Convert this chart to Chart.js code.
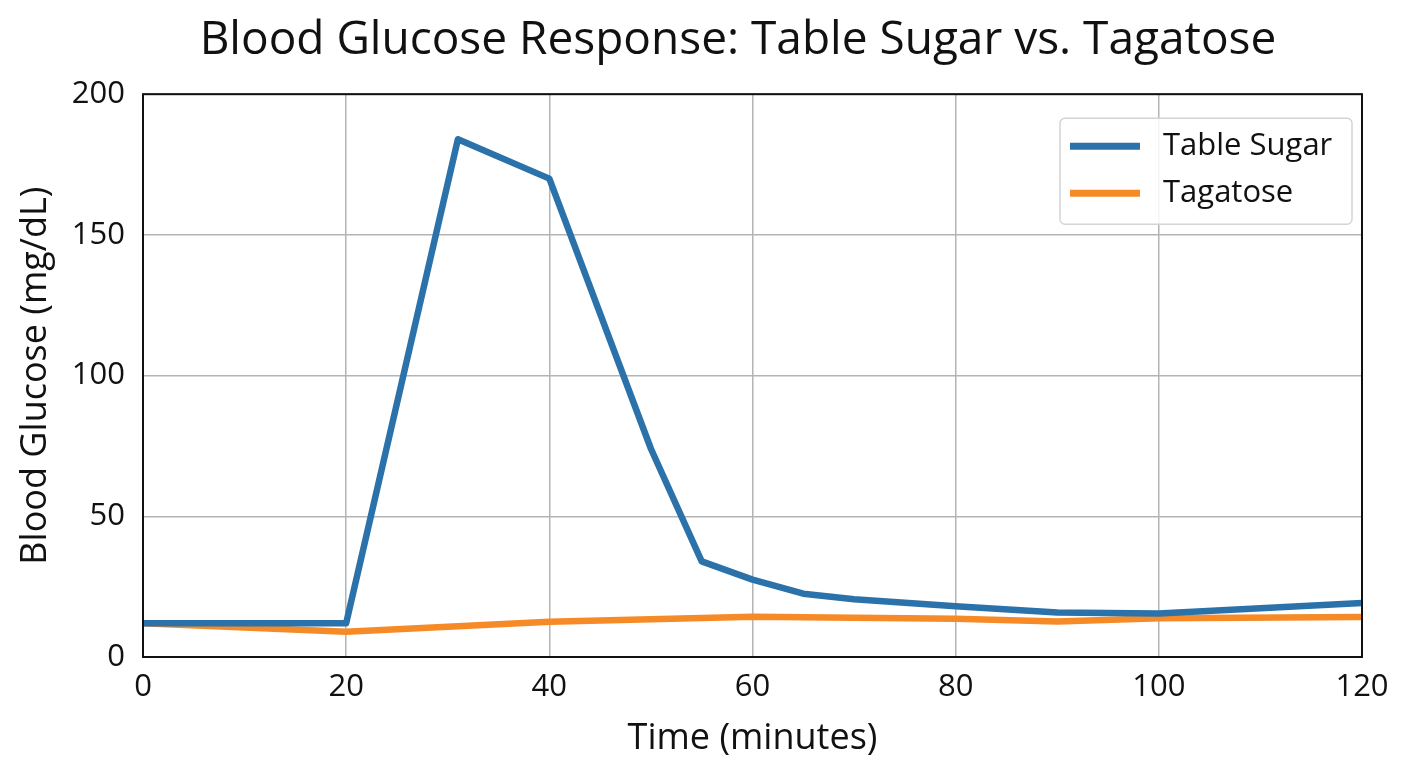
<!DOCTYPE html>
<html>
<head>
<meta charset="utf-8">
<script src="https://cdn.jsdelivr.net/npm/chart.js@4.4.1/dist/chart.umd.min.js"></script>
<style>
  html, body { margin: 0; padding: 0; background: #fff; }
  #wrap { width: 1408px; height: 768px; }
</style>
</head>
<body>
<div id="wrap"><canvas id="GlucoseChart" width="1408" height="768"></canvas></div>
<script>
// values
var sugarTimes = [0, 20, 31, 40, 50, 55, 60, 65, 70, 80, 90, 100, 110, 120];
var sugarValues = [12, 12, 184, 170, 74, 34, 27.5, 22.5, 20.5, 18, 15.8, 15.5, 17.3, 19.2];
var tagaTimes = [0, 20, 40, 60, 80, 90, 100, 120];
var tagaValues = [12, 9, 12.5, 14.3, 13.6, 12.6, 13.8, 14.2];
var xTicks = [0, 20, 40, 60, 80, 100, 120];
var yTicks = [0, 50, 100, 150, 200];
var seriesNames = ['Table Sugar', 'Tagatose'];
var seriesColors = ['#2b72aa', '#f68a26'];

var FONT = "'Open Sans', 'Noto Sans', sans-serif";

function toPoints(xs, ys)
{
  let pts = [];
  for (let i = 0; i < xs.length; i++) pts.push({x: xs[i], y: ys[i]});
  return pts;
}

// black frame round the plot area
const framePlugin = {
  id: 'frame',
  afterLayout(chart) {
    // the title sits a little right of the canvas centre in the original
    const tb = chart.titleBlock;
    if (tb) tb.left = 2 * 738 - tb.right;
  },
  afterDraw(chart) {
    const a = chart.chartArea, ctx = chart.ctx;
    ctx.save();
    ctx.strokeStyle = '#111';
    ctx.lineWidth = 2;
    ctx.strokeRect(a.left, a.top, a.right - a.left, a.bottom - a.top);
    ctx.restore();
  }
};

// legend box drawn inside the plot, top right
const innerLegend = {
  id: 'innerLegend',
  afterDraw(chart) {
    const a = chart.chartArea, ctx = chart.ctx;
    const w = 292, h = 106;
    const x = a.right - 10 - w, y = a.top + 24;
    ctx.save();
    ctx.fillStyle = 'rgba(255,255,255,0.85)';
    ctx.strokeStyle = '#d4d4d4';
    ctx.lineWidth = 1.5;
    ctx.beginPath();
    ctx.roundRect(x, y, w, h, 5);
    ctx.fill();
    ctx.stroke();
    ctx.font = '31px ' + FONT;
    ctx.textBaseline = 'middle';
    chart.data.datasets.forEach((ds, i) => {
      const cy = y + 28 + i * 47;
      ctx.strokeStyle = ds.borderColor;
      ctx.lineWidth = 7;
      ctx.beginPath();
      ctx.moveTo(x + 10, cy);
      ctx.lineTo(x + 80, cy);
      ctx.stroke();
      ctx.fillStyle = '#111';
      ctx.fillText(ds.label, x + 103, cy);
    });
    ctx.restore();
  }
};

new Chart('GlucoseChart', {
  type: 'line',
  data: {
    datasets: [
      {
        label: seriesNames[0],
        data: toPoints(sugarTimes, sugarValues),
        borderColor: seriesColors[0],
        borderWidth: 6.5,
        pointRadius: 0,
        tension: 0,
        borderJoinStyle: 'round'
      },
      {
        label: seriesNames[1],
        data: toPoints(tagaTimes, tagaValues),
        borderColor: seriesColors[1],
        borderWidth: 6.5,
        pointRadius: 0,
        tension: 0,
        borderJoinStyle: 'round'
      }
    ]
  },
  options: {
    responsive: false,
    animation: false,
    layout: { padding: { left: 14, right: 46, top: 0, bottom: 8 } },
    plugins: {
      legend: { display: false },
      tooltip: { enabled: false },
      title: {
        display: true,
        text: 'Blood Glucose Response: Table Sugar vs. Tagatose',
        color: '#111',
        font: { family: FONT, size: 46, weight: 'normal' },
        padding: { top: 13, bottom: 26 }
      }
    },
    scales: {
      x: {
        type: 'linear',
        min: 0,
        max: 120,
        afterBuildTicks(axis) { axis.ticks = xTicks.map(v => ({value: v})); },
        grid: { color: '#b4b4b4', lineWidth: 1.5, drawTicks: false },
        border: { display: false },
        ticks: { color: '#111', font: { family: FONT, size: 31 }, padding: 12 },
        title: {
          display: true,
          text: 'Time (minutes)',
          color: '#111',
          font: { family: FONT, size: 36 },
          padding: { top: 0, bottom: 0 }
        },
        afterFit(axis) { axis.height = 103; }
      },
      y: {
        min: 0,
        max: 200,
        afterBuildTicks(axis) { axis.ticks = yTicks.map(v => ({value: v})); },
        grid: { color: '#b4b4b4', lineWidth: 1.5, drawTicks: false },
        border: { display: false },
        ticks: { color: '#111', font: { family: FONT, size: 31 }, padding: 18 },
        title: {
          display: true,
          text: 'Blood Glucose (mg/dL)',
          color: '#111',
          font: { family: FONT, size: 36 },
          padding: { top: 0, bottom: 4 }
        },
        afterFit(axis) { axis.width = 129; }
      }
    }
  },
  plugins: [framePlugin, innerLegend]
});
</script>
</body>
</html>
